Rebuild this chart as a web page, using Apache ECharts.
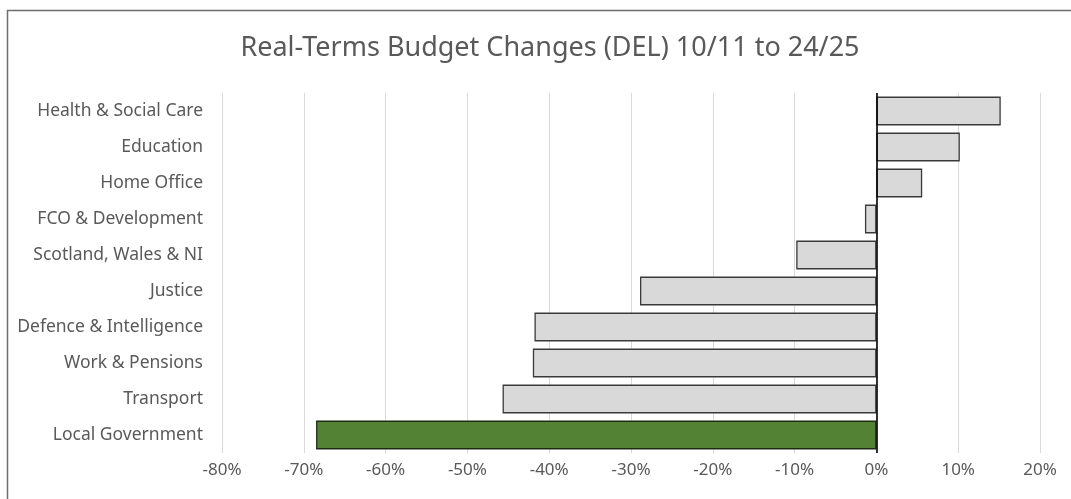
<!DOCTYPE html>
<html>
<head>
<meta charset="utf-8">
<script src="https://cdn.jsdelivr.net/npm/echarts@6/dist/echarts.min.js"></script>
<style>
  html, body { margin: 0; padding: 0; background: #fff; }
  #chart { width: 1071px; height: 499px; }
</style>
</head>
<body>
<div id="chart"></div>
<script>
// Departments, listed bottom-to-top as the category axis draws them
const departments = [
  'Local Government', 'Transport', 'Work & Pensions', 'Defence & Intelligence',
  'Justice', 'Scotland, Wales & NI', 'FCO & Development', 'Home Office',
  'Education', 'Health & Social Care'
];
// Real-terms change in DEL, 10/11 to 24/25 (%)
const changes = [-68.5, -45.7, -42.0, -41.8, -28.9, -9.8, -1.4, 5.6, 10.2, 15.2];
const highlighted = 'Local Government';

const textColor = '#595959';
const fontFamily = '"Noto Sans", "Open Sans", sans-serif';

const chart = echarts.init(document.getElementById('chart'), null, { renderer: 'canvas' });

chart.setOption({
  animation: false,
  backgroundColor: '#ffffff',
  title: {
    text: 'Real-Terms Budget Changes (DEL) 10/11 to 24/25',
    left: 545,
    top: 30,
    textAlign: 'center',
    textStyle: { color: textColor, fontFamily: fontFamily, fontSize: 27, fontWeight: 'normal' }
  },
  graphic: [{
    type: 'rect',
    silent: true,
    shape: { x: 7.5, y: 10.5, width: 1200, height: 700 },
    style: { fill: 'none', stroke: '#6e6e6e', lineWidth: 1.5 }
  }],
  grid: { left: 222, right: 31, top: 93, bottom: 46, containLabel: false },
  xAxis: {
    type: 'value',
    min: -80,
    max: 20,
    interval: 10,
    axisLine: { show: false },
    axisTick: { show: false },
    axisLabel: {
      color: textColor, fontFamily: fontFamily, fontSize: 17, margin: 9,
      formatter: v => v + '%'
    },
    splitLine: { show: true, lineStyle: { color: '#d9d9d9', width: 1 } }
  },
  yAxis: {
    type: 'category',
    data: departments,
    axisLine: { show: false },
    axisTick: { show: false },
    axisLabel: { color: textColor, fontFamily: fontFamily, fontSize: 17.5, margin: 19 },
    splitLine: { show: false }
  },
  series: [{
    type: 'bar',
    barCategoryGap: '20%',
    data: changes.map((v, i) => ({
      value: v,
      itemStyle: departments[i] === highlighted
        ? { color: '#548235', borderColor: '#1f2a14', borderWidth: 1.3 }
        : { color: '#d9d9d9', borderColor: '#3a3a3a', borderWidth: 1.3 }
    })),
    markLine: {
      silent: true,
      symbol: 'none',
      label: { show: false },
      lineStyle: { color: '#000000', width: 1.6, type: 'solid' },
      data: [{ xAxis: 0 }]
    }
  }]
});
</script>
</body>
</html>
